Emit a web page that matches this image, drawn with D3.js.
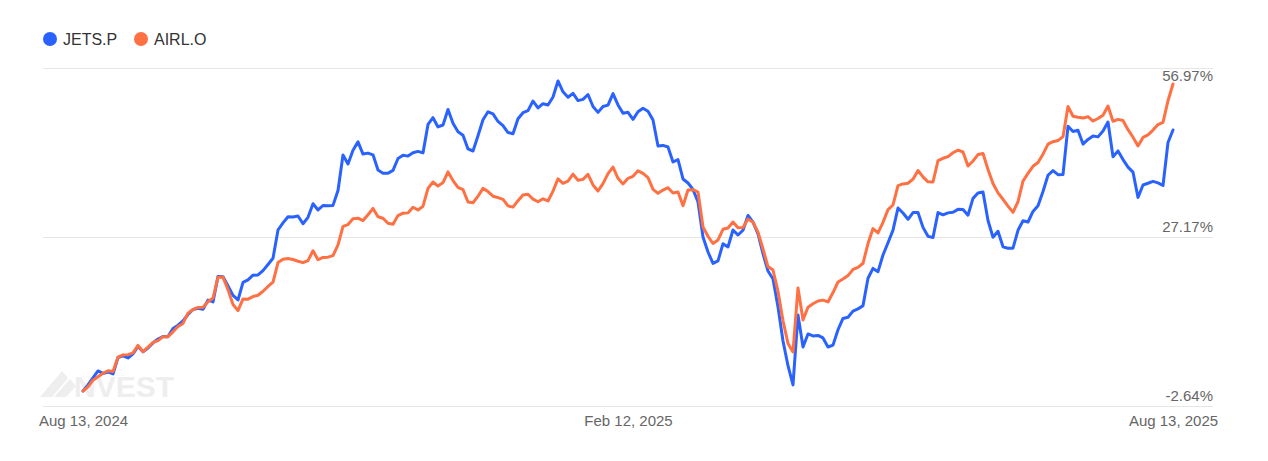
<!DOCTYPE html>
<html>
<head>
<meta charset="utf-8">
<script src="https://cdn.jsdelivr.net/npm/d3@7"></script>
<style>
  html, body { margin: 0; padding: 0; background: #ffffff; }
  svg { display: block; font-family: "Liberation Sans", Arial, sans-serif; }
</style>
</head>
<body>
<svg id="chart" width="1268" height="461"></svg>
<script>
// ---- data (cumulative % change, one value per sampled trading day) ----
const seriesNames = ["JETS.P", "AIRL.O"];
const seriesColors = ["#2962FF", "#FF7043"];

const jetsValues = [
  0.00, 1.07, 2.31, 3.54, 3.10, 3.36, 3.01, 5.92, 6.19, 5.83,
  6.54, 7.86, 6.94, 7.60, 8.48, 9.18, 9.62, 9.59, 11.04, 11.60,
  12.36, 13.50, 14.39, 14.60, 14.44, 16.03, 15.71, 20.22, 20.17, 18.53,
  16.87, 16.06, 19.16, 19.59, 20.43, 20.47, 21.23, 22.32, 23.41, 28.40,
  29.66, 30.73, 30.68, 30.87, 29.50, 30.64, 33.04, 31.93, 32.72, 32.67,
  32.74, 35.37, 41.63, 40.04, 42.46, 43.94, 41.79, 41.96, 41.66, 38.97,
  38.42, 38.40, 38.91, 41.01, 41.58, 41.43, 42.02, 42.26, 42.00, 47.01,
  48.21, 46.57, 46.92, 49.65, 47.22, 45.72, 45.10, 42.69, 42.33, 45.01,
  47.85, 49.25, 48.88, 47.54, 46.80, 45.58, 45.38, 48.01, 49.09, 49.46,
  51.15, 49.92, 50.67, 50.45, 51.86, 54.68, 52.77, 51.82, 52.49, 51.22,
  51.43, 52.30, 50.18, 49.14, 50.18, 50.43, 52.46, 50.45, 48.98, 49.16,
  47.92, 49.26, 49.86, 49.35, 47.80, 43.22, 43.32, 43.04, 40.39, 40.82,
  37.40, 36.69, 35.55, 33.34, 27.17, 24.52, 22.50, 22.94, 25.99, 25.41,
  28.40, 27.52, 28.35, 30.96, 29.78, 27.70, 24.21, 21.16, 19.76, 14.83,
  8.83, 4.46, 1.07, 13.42, 7.77, 10.07, 9.71, 9.80, 9.36, 7.77,
  8.09, 10.81, 12.80, 13.01, 14.09, 14.49, 15.06, 19.89, 21.62, 21.05,
  24.00, 26.16, 28.37, 32.28, 31.40, 30.29, 31.47, 31.49, 28.86, 27.28,
  27.08, 31.47, 31.07, 31.42, 31.54, 32.04, 32.02, 31.01, 33.98, 34.93,
  35.10, 30.08, 27.12, 28.18, 25.44, 25.16, 25.20, 28.35, 30.03, 29.81,
  31.68, 32.69, 35.19, 38.05, 38.88, 38.15, 38.19, 46.69, 45.77, 45.98,
  43.55, 44.38, 44.96, 44.82, 45.86, 47.45, 41.33, 42.35, 40.82, 39.48,
  38.60, 34.12, 36.34, 36.64, 36.97, 36.71, 36.25, 43.83, 46.04
];

const airlValues = [
  0.00, 0.72, 1.92, 2.52, 3.14, 3.58, 3.44, 5.97, 6.36, 6.42,
  6.72, 8.04, 6.94, 7.74, 8.57, 8.90, 9.59, 9.59, 10.44, 11.39,
  11.92, 13.73, 14.37, 14.74, 14.79, 15.74, 16.41, 20.08, 20.06, 17.88,
  15.27, 14.17, 16.24, 16.20, 16.66, 16.89, 17.59, 18.44, 19.22, 22.66,
  23.24, 23.36, 23.20, 22.89, 22.64, 22.99, 24.74, 23.15, 23.57, 23.61,
  23.87, 25.76, 29.04, 29.36, 30.38, 30.48, 30.06, 31.10, 32.20, 30.73,
  30.48, 29.60, 29.43, 30.94, 31.37, 31.42, 32.41, 31.93, 32.60, 35.74,
  36.87, 36.14, 36.76, 38.65, 37.12, 35.93, 35.51, 33.34, 33.20, 34.36,
  35.74, 35.18, 34.36, 34.10, 33.80, 32.65, 32.44, 33.57, 34.58, 34.70,
  33.84, 33.38, 33.91, 33.52, 35.26, 37.43, 36.64, 37.03, 38.26, 37.17,
  37.33, 38.21, 36.34, 35.28, 36.59, 38.35, 39.48, 37.52, 36.53, 37.52,
  37.87, 38.83, 38.38, 37.64, 35.56, 34.86, 35.44, 35.86, 34.93, 35.10,
  32.69, 35.46, 35.51, 35.10, 28.93, 27.29, 26.02, 26.64, 28.53, 28.76,
  29.81, 28.79, 28.84, 30.34, 29.78, 28.02, 25.05, 21.95, 21.35, 17.58,
  12.39, 8.39, 6.89, 18.18, 12.53, 14.77, 15.39, 15.88, 16.03, 15.71,
  17.37, 19.23, 19.76, 20.36, 21.44, 21.81, 22.53, 26.01, 28.65, 27.88,
  29.76, 32.00, 32.81, 36.23, 36.53, 36.64, 37.36, 38.90, 37.77, 36.89,
  36.87, 40.64, 41.05, 41.35, 42.03, 42.48, 42.16, 39.69, 40.57, 41.70,
  41.89, 39.07, 36.59, 34.95, 33.82, 32.62, 31.51, 33.41, 37.01, 38.40,
  39.64, 40.31, 41.77, 43.55, 43.97, 44.17, 44.86, 50.18, 48.47, 48.29,
  48.15, 48.38, 47.62, 48.06, 48.65, 50.27, 47.57, 47.91, 47.71, 46.09,
  44.75, 43.22, 44.73, 45.17, 46.02, 46.99, 47.39, 51.19, 54.15
];

const xTickLabels = ["Aug 13, 2024", "Feb 12, 2025", "Aug 13, 2025"];
const yTickValues = [-2.64, 27.17, 56.97];

// ---- layout ----
const svg = d3.select("#chart");
const plotLeft = 83, plotRight = 1173;
const gridLeft = 43, gridRight = 1213;
const yTop = 68, yBottom = 406;

const n = jetsValues.length;
const x = d3.scaleLinear().domain([0, n - 1]).range([plotLeft, plotRight]);
const y = d3.scaleLinear().domain([yTickValues[0], yTickValues[2]]).range([yBottom, yTop]);

// ---- watermark ----
const wm = svg.append("g").attr("fill", "#eeeeee");
wm.append("path").attr("d", "M40,397 L62,371 L68,378 L52,397 Z");
wm.append("path").attr("d", "M54,397 L70,379 L76,386 L66,397 Z");
wm.append("text").attr("x", 74).attr("y", 397)
  .attr("font-size", 30).attr("font-weight", "bold")
  .attr("font-family", "Liberation Sans, Arial, sans-serif")
  .attr("fill", "#eeeeee").text("NVEST");

// ---- y grid + labels (right side) ----
const yAxis = d3.axisLeft(y).tickValues(yTickValues)
  .tickSize(gridRight - gridLeft)
  .tickFormat(d => d.toFixed(2) + "%");
const gy = svg.append("g").attr("transform", `translate(${gridRight},0)`).call(yAxis);
gy.select(".domain").remove();
gy.selectAll(".tick line").attr("stroke", "#e6e6e6").attr("stroke-width", 1);
gy.selectAll(".tick text")
  .attr("x", 0)
  .attr("text-anchor", "end")
  .attr("fill", "#666666")
  .attr("font-size", 15)
  .attr("font-family", "Liberation Sans, Arial, sans-serif")
  .attr("dy", (d, i) => d === yTickValues[2] ? "0.8em" : "-0.35em");

// ---- x axis labels ----
const xTickIdx = [0, Math.round((n - 1) / 2), n - 1];
const xAxis = d3.axisBottom(x).tickValues(xTickIdx).tickSize(0)
  .tickFormat((d, i) => xTickLabels[i]);
const gx = svg.append("g").attr("transform", `translate(0,${yBottom})`).call(xAxis);
gx.select(".domain").remove();
gx.selectAll(".tick text")
  .attr("y", 20)
  .attr("dy", 0)
  .attr("fill", "#666666")
  .attr("font-size", 15)
  .attr("font-family", "Liberation Sans, Arial, sans-serif");

// ---- lines ----
const line = d3.line().x((d, i) => x(i)).y(d => y(d)).curve(d3.curveLinear);
[jetsValues, airlValues].forEach((vals, k) => {
  svg.append("path")
    .datum(vals)
    .attr("fill", "none")
    .attr("stroke", seriesColors[k])
    .attr("stroke-width", 3)
    .attr("stroke-linejoin", "round")
    .attr("stroke-linecap", "round")
    .attr("d", line);
});

// ---- legend ----
const legendX = [50, 141];
const lg = svg.append("g");
seriesNames.forEach((name, k) => {
  lg.append("circle").attr("cx", legendX[k]).attr("cy", 39).attr("r", 7).attr("fill", seriesColors[k]);
  lg.append("text").attr("x", legendX[k] + 13).attr("y", 45)
    .attr("font-size", 16).attr("fill", "#333333")
    .attr("font-family", "Liberation Sans, Arial, sans-serif")
    .text(name);
});
</script>
</body>
</html>
